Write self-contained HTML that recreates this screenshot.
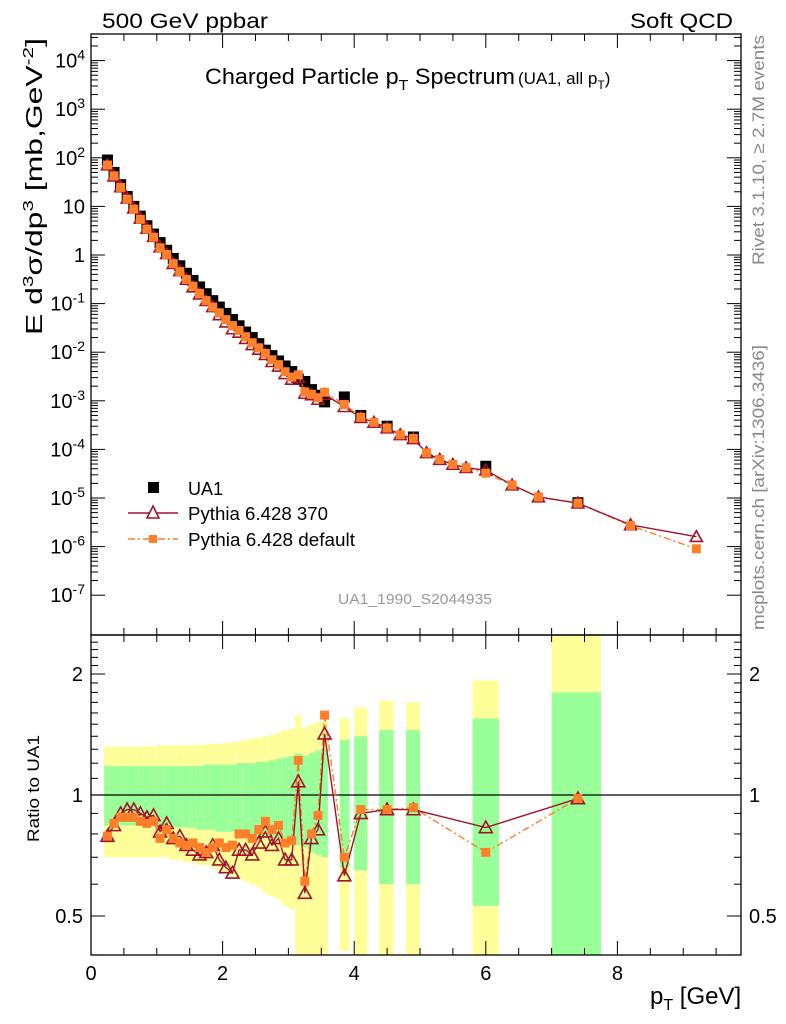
<!DOCTYPE html>
<html><head><meta charset="utf-8"><style>
body{margin:0;background:#fff;}
svg{display:block;font-family:"Liberation Sans",sans-serif;}
</style></head><body>
<svg id="c" width="786" height="1024" viewBox="0 0 786 1024"></svg>
<script>
// ---- data ----
const dataX=[0.25,0.35,0.45,0.55,0.65,0.75,0.85,0.95,1.05,1.15,1.25,1.35,1.45,1.55,1.65,1.75,1.85,1.95,2.05,2.15,2.25,2.35,2.45,2.55,2.65,2.75,2.85,2.95,3.05,3.15,3.25,3.35,3.45,3.55,3.85,4.1,4.5,4.9,6.0,7.4];
const binLo=[0.2,0.3,0.4,0.5,0.6,0.7,0.8,0.9,1.0,1.1,1.2,1.3,1.4,1.5,1.6,1.7,1.8,1.9,2.0,2.1,2.2,2.3,2.4,2.5,2.6,2.7,2.8,2.9,3.0,3.1,3.2,3.3,3.4,3.5,3.78,4.0,4.38,4.79,5.8,7.0];
const binHi=[0.3,0.4,0.5,0.6,0.7,0.8,0.9,1.0,1.1,1.2,1.3,1.4,1.5,1.6,1.7,1.8,1.9,2.0,2.1,2.2,2.3,2.4,2.5,2.6,2.7,2.8,2.9,3.0,3.1,3.2,3.3,3.4,3.5,3.6,3.93,4.2,4.6,5.0,6.2,7.75];
const ua1=[90,50,28,16,10,6.3,4.0,2.7,1.8,1.25,0.85,0.60,0.42,0.30,0.22,0.16,0.115,0.085,0.063,0.047,0.035,0.026,0.020,0.015,0.011,0.0085,0.0066,0.0052,0.0040,0.0028,0.0025,0.0017,0.0013,0.00095,0.0012,0.00050,0.00030,0.00018,0.000045,0.000008];
const ratio370=[0.79,0.84,0.90,0.92,0.92,0.90,0.88,0.89,0.81,0.85,0.78,0.79,0.75,0.73,0.71,0.72,0.75,0.69,0.66,0.64,0.73,0.73,0.71,0.76,0.81,0.75,0.78,0.69,0.69,1.08,0.57,0.78,0.82,1.42,0.63,0.90,0.92,0.92,0.83,0.98];
const ratioDef=[0.79,0.85,0.88,0.88,0.88,0.86,0.85,0.86,0.78,0.82,0.78,0.76,0.75,0.76,0.74,0.72,0.74,0.76,0.74,0.75,0.80,0.80,0.78,0.82,0.86,0.82,0.84,0.76,0.77,1.22,0.61,0.80,0.89,1.58,0.70,0.92,0.92,0.93,0.72,0.98];
const yelHi=[1.32,1.32,1.32,1.32,1.32,1.32,1.32,1.32,1.33,1.33,1.33,1.33,1.33,1.33,1.33,1.34,1.34,1.34,1.35,1.35,1.36,1.37,1.38,1.39,1.40,1.41,1.43,1.45,1.46,1.58,1.47,1.50,1.52,1.53,1.55,1.65,1.72,1.70,1.93,2.6];
const yelLo=[0.70,0.70,0.70,0.70,0.70,0.70,0.70,0.70,0.70,0.70,0.69,0.69,0.68,0.68,0.67,0.67,0.66,0.65,0.64,0.63,0.62,0.61,0.60,0.59,0.57,0.56,0.55,0.53,0.52,0.35,0.37,0.30,0.30,0.30,0.41,0.30,0.30,0.30,0.30,0.30];
const grnHi=[1.18,1.18,1.18,1.18,1.18,1.18,1.18,1.18,1.18,1.18,1.18,1.18,1.18,1.18,1.18,1.19,1.19,1.19,1.19,1.19,1.20,1.20,1.20,1.21,1.21,1.22,1.23,1.24,1.25,1.27,1.25,1.27,1.29,1.30,1.37,1.40,1.45,1.45,1.55,1.80];
const grnLo=[0.84,0.84,0.84,0.84,0.84,0.84,0.84,0.84,0.84,0.84,0.83,0.83,0.83,0.83,0.82,0.82,0.82,0.81,0.81,0.81,0.80,0.80,0.80,0.79,0.79,0.79,0.78,0.78,0.77,0.75,0.74,0.72,0.71,0.70,0.66,0.65,0.60,0.60,0.53,0.40];
const extraX=[4.3,4.7,5.1,5.3,5.5,5.7,6.4,6.8,8.2,9.2];
const extra370=[0.00036,0.00020,0.000085,0.000062,0.000049,0.000042,0.0000185,0.0000105,0.0000028,0.0000016];
const extraDef=[0.00036,0.00020,0.000085,0.000062,0.000049,0.000042,0.0000185,0.0000105,0.0000027,0.0000009];
const xTicks=[0,2,4,6,8];
const yDecades=[-7,-6,-5,-4,-3,-2,-1,0,1,2,3,4];
const rTicks=[0.5,1,2];

// ---- axes ----
const L=91,R=741,T=34,MID=635,B=955;
const X=v=>L+v*65.8;
const Y=v=>255-48.6*Math.log10(v);
const RY=v=>795-121*Math.log2(v);
const RYc=v=>Math.max(MID,Math.min(B,RY(v)));
const ns="http://www.w3.org/2000/svg";
const svg=document.getElementById('c');
function mk(tag,at,parent){const e=document.createElementNS(ns,tag);for(const k in at)e.setAttribute(k,at[k]);(parent||svg).appendChild(e);return e;}
function txt(s,at,parent){const e=mk('text',at,parent);e.innerHTML=s;return e;}

const defs=mk('defs',{});
const cp=mk('clipPath',{id:'rc'},defs);mk('rect',{x:L,y:MID,width:R-L,height:B-MID},cp);
const cp2=mk('clipPath',{id:'tc'},defs);mk('rect',{x:L,y:T,width:R-L,height:MID-T},cp2);

const bands=mk('g',{'clip-path':'url(#rc)'});


dataX.forEach((x,i)=>{
  const y1=mk('rect',{x:X(binLo[i]),y:RYc(yelHi[i]),width:X(binHi[i])-X(binLo[i]),height:RYc(yelLo[i])-RYc(yelHi[i]),fill:'#ffff99'},bands);
  
  
  const g1=mk('rect',{x:X(binLo[i]),y:RYc(grnHi[i]),width:X(binHi[i])-X(binLo[i]),height:RYc(grnLo[i])-RYc(grnHi[i]),fill:'#99ff99'},bands);
  
  
});
mk('line',{x1:L,x2:R,y1:RY(1),y2:RY(1),stroke:'#000','stroke-width':1.3});

mk('rect',{x:L,y:T,width:R-L,height:MID-T,fill:'none',stroke:'#000','stroke-width':1.3});
mk('rect',{x:L,y:MID,width:R-L,height:B-MID,fill:'none',stroke:'#000','stroke-width':1.3});

const ax=mk('g',{stroke:'#000','stroke-width':1});
for(let v=0;v<=9.8;v+=0.5){const maj=Math.abs(v%2)<1e-6;const l=maj?14:7;
  mk('line',{x1:X(v),x2:X(v),y1:B,y2:B-l},ax);mk('line',{x1:X(v),x2:X(v),y1:MID,y2:MID-l},ax);
  mk('line',{x1:X(v),x2:X(v),y1:MID,y2:MID+l},ax);mk('line',{x1:X(v),x2:X(v),y1:T,y2:T+l},ax);}
xTicks.forEach(v=>{const t=txt(v,{x:X(v),y:980,'font-size':20,'text-anchor':'middle'});
  
  });
yDecades.forEach(d=>{
  const y=255-48.6*d;
  if(y>T&&y<MID){mk('line',{x1:L,x2:L+14,y1:y,y2:y},ax);mk('line',{x1:R,x2:R-14,y1:y,y2:y},ax);
    const t=txt(d===0?'1':d===1?'10':'10<tspan font-size="14" dy="-8">'+d+'</tspan>',{x:L-6,y:y+7,'font-size':20,'text-anchor':'end'});
    
    }
  for(let m=2;m<=9;m++){const ym=255-48.6*(d+Math.log10(m));if(ym>T&&ym<MID){mk('line',{x1:L,x2:L+7,y1:ym,y2:ym},ax);mk('line',{x1:R,x2:R-7,y1:ym,y2:ym},ax);}}
});
for(let v=0.4;v<=2.5;v+=0.1){const y=RY(v);if(y>MID&&y<B){const maj=[0.5,1,2].some(a=>Math.abs(a-v)<1e-6);const l=maj?14:7;
  mk('line',{x1:L,x2:L+l,y1:y,y2:y},ax);mk('line',{x1:R,x2:R-l,y1:y,y2:y},ax);}}
rTicks.forEach(v=>{const t1=txt(v,{x:L-8,y:RY(v)+7,'font-size':20,'text-anchor':'end'});
  
  
  const t2=txt(v,{x:R+8,y:RY(v)+7,'font-size':20});
  
  });

const p370=dataX.map((x,i)=>[x,ua1[i]*ratio370[i]]).concat(extraX.map((x,i)=>[x,extra370[i]])).sort((a,b)=>a[0]-b[0]);
const pDef=dataX.map((x,i)=>[x,ua1[i]*ratioDef[i]]).concat(extraX.map((x,i)=>[x,extraDef[i]])).sort((a,b)=>a[0]-b[0]);
const C370='#a0132a',CDEF='#ff7f2a';
function tri(g,x,y,s){const e=mk('path',{d:`M${x} ${y-s}L${x+s} ${y+s*0.8}L${x-s} ${y+s*0.8}Z`,fill:'none',stroke:C370,'stroke-width':1.6},g);
  
  }
function sq(g,x,y,s,c,name){const e=mk('rect',{x:x-s,y:y-s,width:2*s,height:2*s,fill:c},g);
  
  }

const topG=mk('g',{'clip-path':'url(#tc)'});


dataX.forEach((x,i)=>sq(topG,X(x),Y(ua1[i]),5.5,'#000','ua1-point'));
mk('polyline',{points:pDef.map(p=>X(p[0])+','+Y(p[1])).join(' '),fill:'none',stroke:CDEF,'stroke-width':1.4,'stroke-dasharray':'7 3 2 3'},topG);
mk('polyline',{points:p370.map(p=>X(p[0])+','+Y(p[1])).join(' '),fill:'none',stroke:C370,'stroke-width':1.4},topG);
p370.forEach(p=>tri(topG,X(p[0]),Y(p[1]),6));
pDef.forEach(p=>sq(topG,X(p[0]),Y(p[1]),4.5,CDEF,'pythia-default-point'));

const rg=mk('g',{'clip-path':'url(#rc)'});


mk('polyline',{points:dataX.map((x,i)=>X(x)+','+RY(ratioDef[i])).join(' '),fill:'none',stroke:CDEF,'stroke-width':1.4,'stroke-dasharray':'7 3 2 3'},rg);
mk('polyline',{points:dataX.map((x,i)=>X(x)+','+RY(ratio370[i])).join(' '),fill:'none',stroke:C370,'stroke-width':1.4},rg);
dataX.forEach((x,i)=>tri(rg,X(x),RY(ratio370[i]),6.5));
dataX.forEach((x,i)=>sq(rg,X(x),RY(ratioDef[i]),4.5,CDEF,'ratio-default-point'));
</script>
<svg width="786" height="1024" style="position:absolute;left:0;top:0">
<g font-family="Liberation Sans, sans-serif">
<text x="102" y="28" font-size="21" textLength="166" lengthAdjust="spacingAndGlyphs">500 GeV ppbar</text>
<text x="630" y="28" font-size="21" textLength="103" lengthAdjust="spacingAndGlyphs">Soft QCD</text>
<text x="205" y="84" font-size="22"><tspan textLength="310" lengthAdjust="spacingAndGlyphs">Charged Particle p<tspan font-size="15" dy="6">T</tspan><tspan dy="-6"> Spectrum</tspan></tspan><tspan font-size="17" x="518">(UA1, all p<tspan font-size="12" dy="5">T</tspan><tspan dy="-5">)</tspan></tspan></text>
<text x="415" y="604" font-size="15" fill="#999" text-anchor="middle" textLength="154" lengthAdjust="spacingAndGlyphs">UA1_1990_S2044935</text>
<text transform="translate(764,265) rotate(-90)" font-size="17" fill="#888" textLength="230" lengthAdjust="spacingAndGlyphs">Rivet 3.1.10, ≥ 2.7M events</text>
<text transform="translate(764,630) rotate(-90)" font-size="17" fill="#888" textLength="285" lengthAdjust="spacingAndGlyphs">mcplots.cern.ch [arXiv:1306.3436]</text>
<text transform="translate(42,335) rotate(-90)" font-size="23" textLength="297" lengthAdjust="spacingAndGlyphs">E d<tspan font-size="15" dy="-9">3</tspan><tspan dy="9">σ/dp</tspan><tspan font-size="15" dy="-9">3</tspan><tspan dy="9"> [mb,GeV</tspan><tspan font-size="15" dy="-9">-2</tspan><tspan dy="9">]</tspan></text>
<text transform="translate(39,842) rotate(-90)" font-size="17" textLength="107" lengthAdjust="spacingAndGlyphs">Ratio to UA1</text>
<text x="650" y="1004" font-size="24">p<tspan font-size="16" dy="6">T</tspan><tspan dy="-6"> [GeV]</tspan></text>
<g>
<rect x="148" y="482" width="11" height="11" fill="#000"/>
<text x="188" y="495" font-size="18">UA1</text>
<line x1="128" x2="178" y1="513" y2="513" stroke="#a0132a" stroke-width="1.4"/>
<path d="M153 506L159 518L147 518Z" fill="#fff" stroke="#a0132a" stroke-width="1.6"/>
<text x="188" y="520" font-size="18" textLength="140" lengthAdjust="spacingAndGlyphs">Pythia 6.428 370</text>
<line x1="128" x2="178" y1="539" y2="539" stroke="#ff7f2a" stroke-width="1.4" stroke-dasharray="7 3 2 3"/>
<rect x="149" y="535" width="8" height="8" fill="#ff7f2a"/>
<text x="188" y="546" font-size="18" textLength="167" lengthAdjust="spacingAndGlyphs">Pythia 6.428 default</text>
</g>
</g></svg>
</body></html>
